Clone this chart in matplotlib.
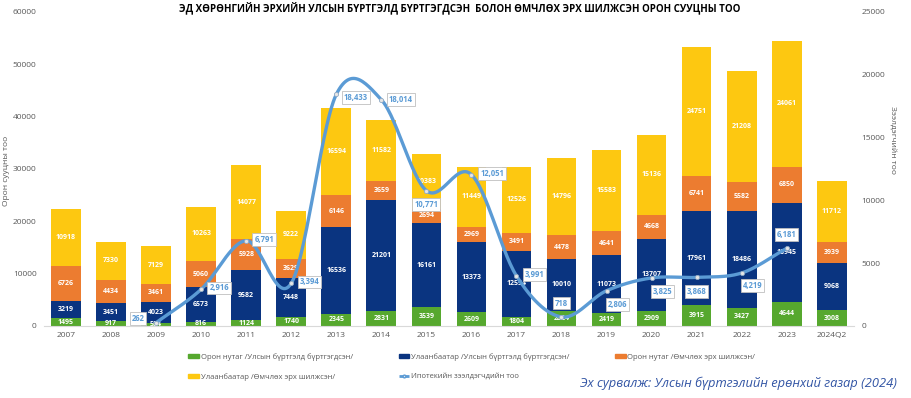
import numpy as np
import matplotlib
matplotlib.use('Agg')
from matplotlib import pyplot as plt
from matplotlib.patches import Patch
from matplotlib.lines import Line2D

plt.rcParams['font.family'] = ['Open Sans', 'DejaVu Sans']

# --- data -------------------------------------------------------------
years = ['2007', '2008', '2009', '2010', '2011', '2012', '2013', '2014', '2015',
         '2016', '2017', '2018', '2019', '2020', '2021', '2022', '2023', '2024Q2']
local_reg = [1495, 917, 584, 816, 1124, 1740, 2345, 2831, 3539,
             2609, 1804, 2824, 2419, 2909, 3915, 3427, 4644, 3008]
ub_reg = [3219, 3451, 4023, 6573, 9582, 7448, 16536, 21201, 16161,
          13373, 12554, 10010, 11073, 13707, 17961, 18486, 18945, 9068]
local_trans = [6726, 4434, 3461, 5060, 5928, 3629, 6146, 3659, 2694,
               2969, 3491, 4478, 4641, 4668, 6741, 5582, 6850, 3939]
ub_trans = [10918, 7330, 7129, 10263, 14077, 9222, 16594, 11582, 10383,
            11449, 12526, 14796, 15583, 15136, 24751, 21208, 24061, 11712]
# mortgage borrowers, 2009..2023
loan_years = years[2:17]
borrowers = [262, 2916, 6791, 3394, 18433, 18014, 10771, 12051,
             3991, 718, 2806, 3825, 3868, 4219, 6181]

series_names = ['Орон нутаг /Улсын бүртгэлд бүртгэгдсэн/',
                'Улаанбаатар /Улсын бүртгэлд бүртгэгдсэн/',
                'Орон нутаг /Өмчлөх эрх шилжсэн/',
                'Улаанбаатар /Өмчлөх эрх шилжсэн/']
line_name = 'Ипотекийн зээлдэгчдийн тоо'
colors = ['#56A82E', '#0A3480', '#EC7C30', '#FDC811']
line_color = '#5B9BD5'
gray = '#595959'


def catmull_rom(x, y, n=30):
    # smooth line like the spreadsheet "smoothed line" option
    x = np.asarray(x, float)
    y = np.asarray(y, float)
    px = np.concatenate([[2 * x[0] - x[1]], x, [2 * x[-1] - x[-2]]])
    py = np.concatenate([[2 * y[0] - y[1]], y, [2 * y[-1] - y[-2]]])
    xs, ys = [], []
    t = np.linspace(0, 1, n)
    for i in range(1, len(px) - 2):
        for p, out in ((px, xs), (py, ys)):
            p0, p1, p2, p3 = p[i - 1], p[i], p[i + 1], p[i + 2]
            out.append(0.5 * (2 * p1 + (-p0 + p2) * t
                              + (2 * p0 - 5 * p1 + 4 * p2 - p3) * t ** 2
                              + (-p0 + 3 * p1 - 3 * p2 + p3) * t ** 3))
    return np.concatenate(xs), np.concatenate(ys)


fig = plt.figure(figsize=(9.12, 3.98), dpi=100)
ax = fig.add_axes([0.0477, 0.181, 0.889, 0.789])
x = np.arange(len(years))

bottom = np.zeros(len(years))
for vals, col in zip([local_reg, ub_reg, local_trans, ub_trans], colors):
    vals = np.array(vals)
    ax.bar(x, vals, 0.66, bottom=bottom, color=col, zorder=2)
    for xi, b, v in zip(x, bottom, vals):
        ax.text(xi, b + v / 2, str(v), ha='center', va='center',
                color='white', fontsize=5, fontweight='bold', zorder=3)
    bottom += vals

ax.set_xlim(-0.5, len(years) - 0.5)
ax.set_ylim(0, 60000)
ax.set_yticks(range(0, 60001, 10000))
ax.set_xticks(x)
ax.set_xticklabels(years)
ax.tick_params(axis='both', length=0, labelsize=6, colors=gray)
ax.tick_params(axis='y', pad=5)
ax.tick_params(axis='x', pad=4)
for s in ['top', 'right', 'left']:
    ax.spines[s].set_visible(False)
ax.spines['bottom'].set_color('#D9D9D9')
fig.text(0.003, 0.57, 'Орон сууцны тоо', rotation=90, fontsize=6,
         color=gray, ha='left', va='center')

ax2 = ax.twinx()
ax2.set_ylim(0, 25000)
ax2.set_yticks(range(0, 25001, 5000))
ax2.tick_params(axis='y', length=0, labelsize=6, colors=gray, pad=5)
for s in ax2.spines.values():
    s.set_visible(False)
fig.text(0.979, 0.648, 'Зээлдэгчийн тоо', rotation=270, fontsize=6,
         color=gray, ha='center', va='center')

lx = np.array([years.index(y) for y in loan_years])
sx, sy = catmull_rom(lx, borrowers)
ax2.plot(sx, sy, color=line_color, lw=2.4, zorder=4, solid_capstyle='round')
ax2.plot(lx, borrowers, 'o', ms=3, mfc='#E6E6E6', mec='#8FA9C4', mew=0.6,
         zorder=5)

# label offsets in points (dx, dy)
offsets = [(-13, 3), (13, 1), (13, 1), (13, 1), (14, -2), (14, 0), (0, -10),
           (15, 1), (13, 1), (0, 10), (8, -10), (8, -10), (0, -10), (8, -9),
           (0, 10)]
for xi, v, (dx, dy) in zip(lx, borrowers, offsets):
    ax2.annotate(f'{v:,}', (xi, v), xytext=(dx, dy), textcoords='offset points',
                 ha='center', va='center', fontsize=5.5, fontweight='bold',
                 color=line_color, zorder=6,
                 bbox=dict(boxstyle='square,pad=0.25', fc='white',
                           ec='#BFBFBF', lw=0.6))

fig.text(0.504, 0.993, 'ЭД ХӨРӨНГИЙН ЭРХИЙН УЛСЫН БҮРТГЭЛД БҮРТГЭГДСЭН  БОЛОН '
         'ӨМЧЛӨХ ЭРХ ШИЛЖСЭН ОРОН СУУЦНЫ ТОО', ha='center', va='top',
         fontsize=7, fontweight='bold')

handles = [Patch(color=c) for c in colors]
handles.append(Line2D([], [], color=line_color, lw=2, ls='--', marker='o',
                      ms=2, mfc='#E6E6E6', mec=line_color))
labels = series_names + [line_name]
order = [0, 3, 1, 4, 2]
fig.legend([handles[i] for i in order], [labels[i] for i in order], ncol=3,
           loc='upper left', bbox_to_anchor=(0.199, 0.13), frameon=False,
           fontsize=5.5, labelcolor=gray, handlelength=1.4, handleheight=0.5,
           handletextpad=0.2, columnspacing=6.0, labelspacing=1.6)

fig.text(0.983, 0.038, 'Эх сурвалж: Улсын бүртгэлийн ерөнхий газар (2024)',
         ha='right', va='center', fontsize=9.3, style='italic',
         color='#3154A4')

fig.savefig('out.png', dpi=100)
